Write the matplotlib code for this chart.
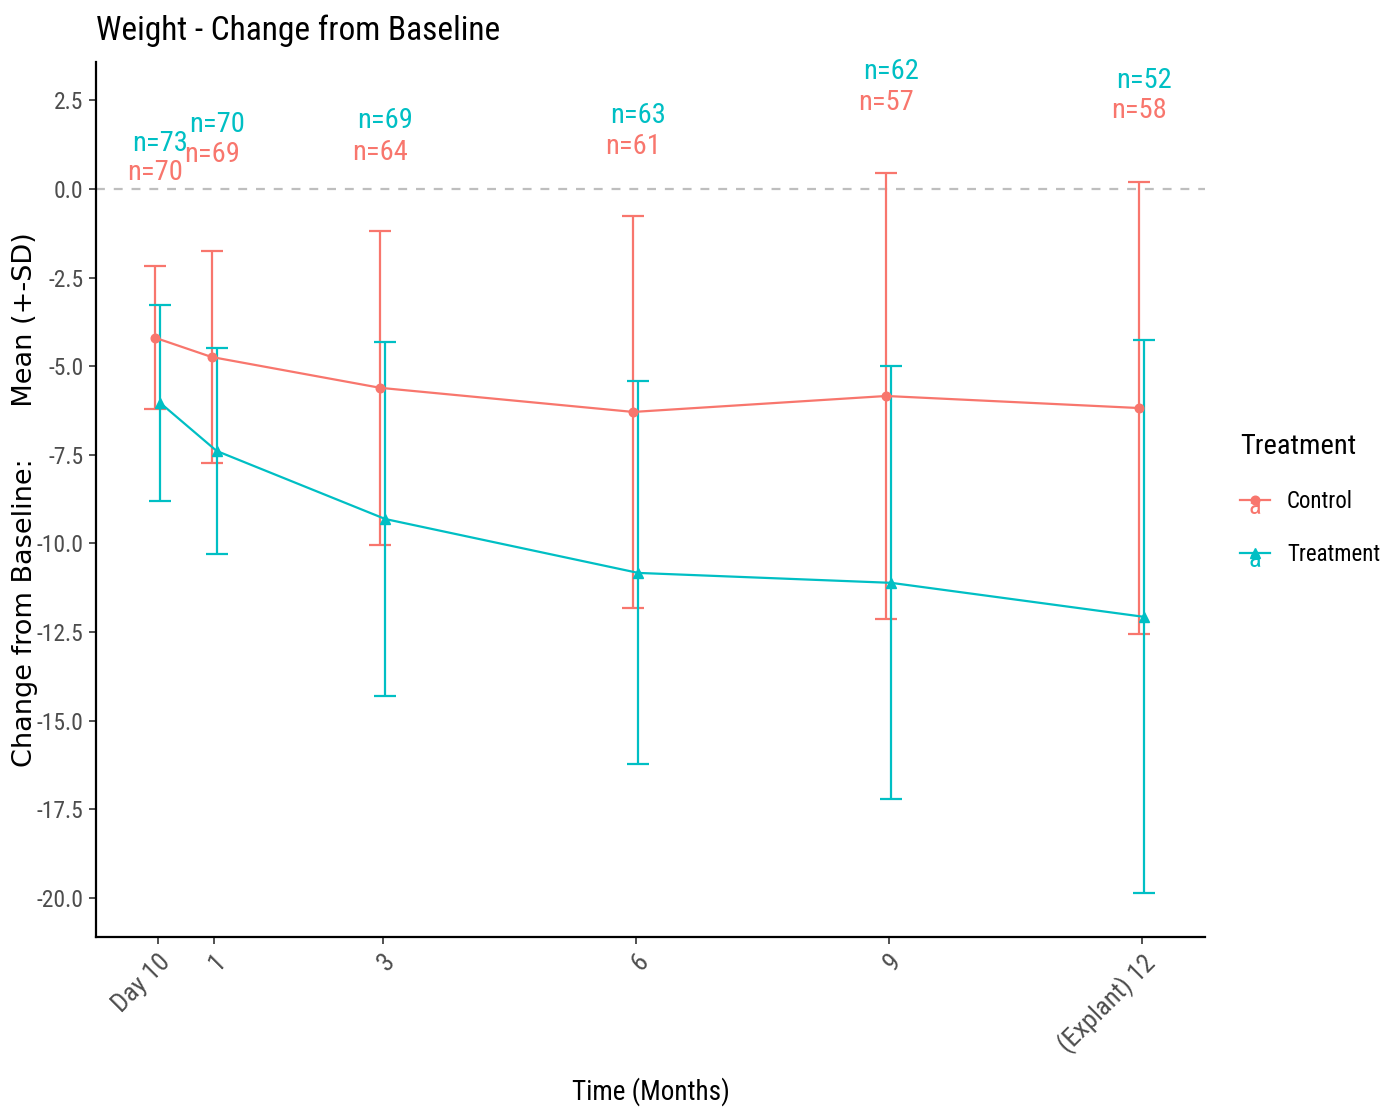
import numpy as np
import matplotlib
matplotlib.use('Agg')
import matplotlib.pyplot as plt
from matplotlib import font_manager as fm
from matplotlib.font_manager import FontProperties
from matplotlib.lines import Line2D
from matplotlib.text import Text
from matplotlib.legend_handler import HandlerLine2D

# time points (months) and tick labels
months = [10/30, 1, 3, 6, 9, 12]
tick_labels = ['Day 10', '1', '3', '6', '9', '(Explant) 12']

# Control group
ctrl_mean = [-4.20, -4.74, -5.61, -6.29, -5.84, -6.18]
ctrl_sd = [2.02, 3.00, 4.43, 5.52, 6.28, 6.37]
ctrl_n = [70, 69, 64, 61, 57, 58]
ctrl_lab_y = [0.45, 0.96, 1.04, 1.21, 2.45, 2.20]

# Treatment group
trt_mean = [-6.04, -7.39, -9.31, -10.83, -11.11, -12.07]
trt_sd = [2.77, 2.90, 4.98, 5.40, 6.11, 7.80]
trt_n = [73, 70, 69, 63, 62, 52]
trt_lab_y = [1.27, 1.83, 1.92, 2.06, 3.30, 3.07]

c_ctrl = '#F8766D'
c_trt = '#00BFC4'


def pick_narrow():
    # look for an Arial Narrow like face, else any condensed regular face
    fonts = [f for f in fm.fontManager.ttflist
             if f.style == 'normal' and f.weight in (400, 'normal', 'regular', 'book')]
    for want in ['Liberation Sans Narrow', 'Arial Narrow', 'Roboto Condensed',
                 'Open Sans Condensed', 'Noto Sans Condensed', 'DejaVu Sans Condensed']:
        for f in fonts:
            if f.name == want:
                return f.fname
    for f in fonts:
        if f.stretch in ('condensed', 'semi-condensed') or 'Condensed' in f.name:
            return f.fname
    return None


narrow_file = pick_narrow()
scale = 1.0 if narrow_file else 0.85


def nfp(size):
    if narrow_file:
        return FontProperties(fname=narrow_file, size=size)
    return FontProperties(family='Liberation Sans', size=size*scale)


class HandlerWithA(HandlerLine2D):
    # ggplot style key: line + point + the letter "a" from geom_text
    def create_artists(self, legend, orig_handle, xdescent, ydescent,
                       width, height, fontsize, trans):
        arts = super().create_artists(legend, orig_handle, xdescent, ydescent,
                                      width, height, fontsize, trans)
        t = Text(x=width/2 - xdescent, y=height/2 - ydescent - 5, text='a',
                 color=orig_handle.get_color(), ha='center', va='center',
                 fontproperties=nfp(19), transform=trans)
        return list(arts) + [t]


fig = plt.figure(figsize=(13.96, 11.15), dpi=100)
ax = fig.add_axes([0.0688, 0.1596, 0.7943, 0.7848])

dodge = 0.03
x = np.array(months)
groups = [(ctrl_mean, ctrl_sd, ctrl_n, ctrl_lab_y, c_ctrl, 'o', -dodge, 'Control', 6.2),
          (trt_mean, trt_sd, trt_n, trt_lab_y, c_trt, '^', dodge, 'Treatment', 7)]

handles = []
for mean, sd, n, lab_y, col, mk, off, name, ms in groups:
    xs = x + off
    ax.errorbar(xs, mean, yerr=sd, fmt='none', ecolor=col, elinewidth=1.6,
                capsize=8, capthick=1.6, zorder=2)
    ax.plot(xs, mean, '-', color=col, lw=1.6, marker=mk, markersize=ms, zorder=3)
    for xi, yi, ni in zip(xs, lab_y, n):
        ax.text(xi, yi, 'n=%d' % ni, color=col, ha='center', va='center',
                fontproperties=nfp(20.5))
    handles.append(Line2D([], [], color=col, lw=1.6, marker=mk, markersize=ms,
                          label=name))

ax.axhline(0, color='#BEBEBE', ls=(0, (4, 4)), lw=1.6, zorder=1)

ax.set_xlim(-0.40, 12.75)
ax.set_ylim(-21.1, 3.58)
yt = np.arange(-20, 2.6, 2.5)
ax.set_xticks(months)
ax.set_xticklabels(tick_labels, rotation=45, ha='right', rotation_mode='anchor',
                   color='#4D4D4D')
ax.set_yticks(yt)
ax.set_yticklabels(['%.1f' % v for v in yt], color='#4D4D4D')
for lab in ax.get_xticklabels():
    lab.set_fontproperties(nfp(19))
for lab in ax.get_yticklabels():
    lab.set_fontproperties(nfp(17))
ax.tick_params(length=5, width=1.2, color='#333333', pad=4)
for s in ['top', 'right']:
    ax.spines[s].set_visible(False)
for s in ['left', 'bottom']:
    ax.spines[s].set_linewidth(1.6)

ax.set_xlabel('Time (Months)', fontproperties=nfp(19.5), labelpad=14)
ax.set_ylabel('Change from Baseline:      Mean (+-SD)', fontsize=19.5,
              family='DejaVu Sans')
ax.yaxis.set_label_coords(-0.052, 0.5)
ax.set_title('Weight - Change from Baseline', fontproperties=nfp(24),
             loc='left', pad=16)

leg = ax.legend(handles=handles, title='Treatment', loc='center left',
                bbox_to_anchor=(1.0316, 0.5), frameon=False,
                borderpad=0, borderaxespad=0,
                handler_map={Line2D: HandlerWithA()},
                prop=nfp(16.5), handlelength=1.3, handletextpad=0.75,
                labelspacing=1.3)
leg.get_title().set_fontproperties(nfp(20.5))
leg._legend_box.align = 'left'

fig.savefig('out.png', dpi=100)
